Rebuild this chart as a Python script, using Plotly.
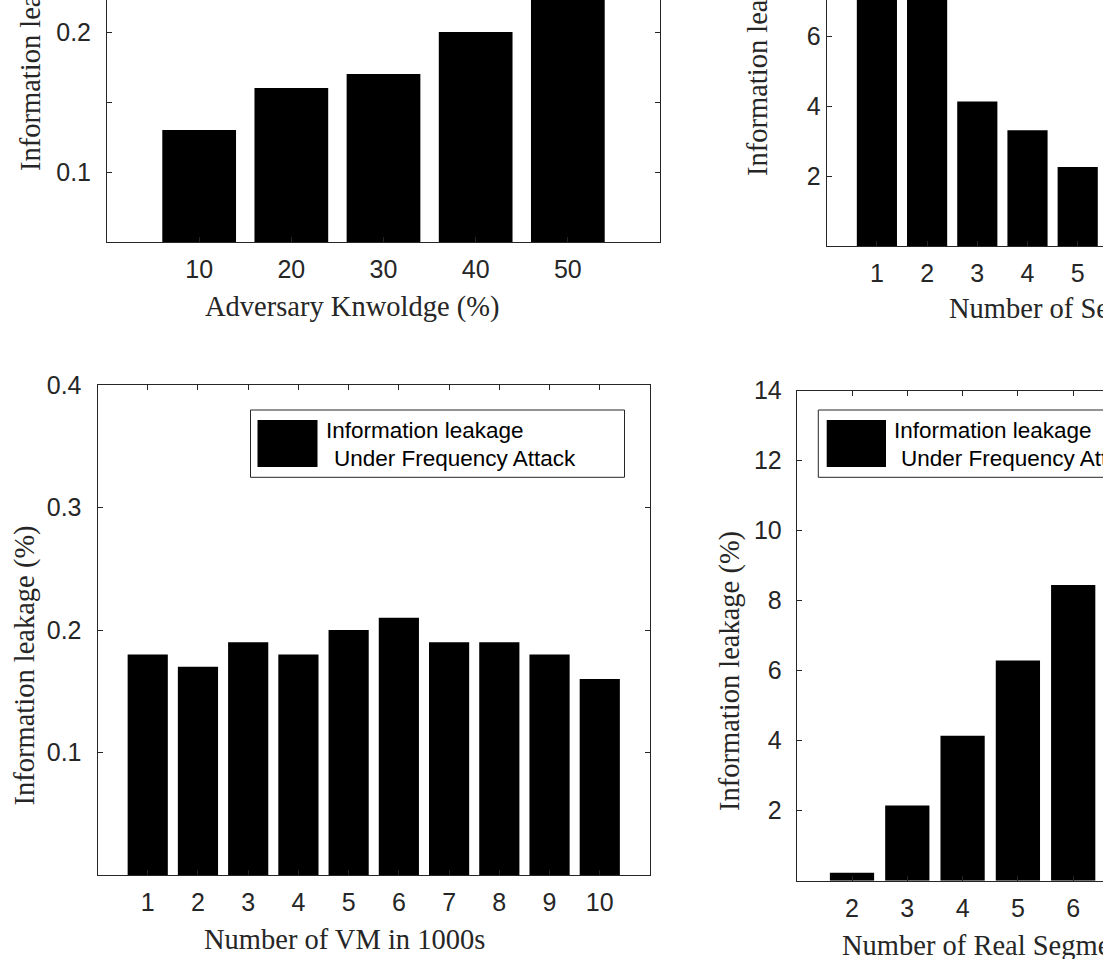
import plotly.graph_objects as go

W, H = 1103, 959

# ---------------- data ----------------
knowledge = [10, 20, 30, 40, 50]
leak_knowledge = [0.13, 0.16, 0.17, 0.20, 0.24]

segments = [1, 2, 3, 4, 5]
leak_segments = [8.6, 7.9, 4.13, 3.31, 2.26]

vms = [1, 2, 3, 4, 5, 6, 7, 8, 9, 10]
leak_vm = [0.18, 0.17, 0.19, 0.18, 0.20, 0.21, 0.19, 0.19, 0.18, 0.16]

real_segments = [2, 3, 4, 5, 6]
leak_real = [0.23, 2.15, 4.14, 6.29, 8.45]

tl_yticks = [0.1, 0.15, 0.2]
tl_yticktext = ["0.1", "", "0.2"]
tr_yticks = [2, 4, 6]
bl_yticks = [0.1, 0.2, 0.3, 0.4]
br_yticks = [2, 4, 6, 8, 10, 12, 14]

ylabel = "Information leakage (%)"
legend_line1 = "Information leakage"
legend_line2 = "Under Frequency Attack"

AX = "#262626"
TICKFONT = dict(family="Liberation Sans, Arial, sans-serif", size=25, color=AX)
SERIF = dict(family="Liberation Serif, Times New Roman, serif", size=28.5, color=AX)
LEGFONT = dict(family="Liberation Sans, Arial, sans-serif", size=22.5, color="black")


def px(x):
    return x / W


def py(y):
    return 1 - y / H


fig = go.Figure()

fig.add_trace(go.Bar(x=knowledge, y=leak_knowledge, width=8, xaxis="x", yaxis="y",
                     marker=dict(color="black", line=dict(width=0))))
fig.add_trace(go.Bar(x=segments, y=leak_segments, width=0.8, xaxis="x2", yaxis="y2",
                     marker=dict(color="black", line=dict(width=0))))
fig.add_trace(go.Bar(x=vms, y=leak_vm, width=0.8, xaxis="x3", yaxis="y3",
                     marker=dict(color="black", line=dict(width=0))))
fig.add_trace(go.Bar(x=real_segments, y=leak_real, width=0.8, xaxis="x4", yaxis="y4",
                     marker=dict(color="black", line=dict(width=0))))


def axis(**kw):
    d = dict(showline=True, linecolor=AX, linewidth=1, ticks="inside", ticklen=5,
             tickcolor=AX, tickwidth=1, showgrid=False, zeroline=False,
             tickfont=TICKFONT, automargin=False)
    d.update(kw)
    return d


fig.update_layout(
    width=W, height=H, margin=dict(l=0, r=0, t=0, b=0, pad=0, autoexpand=False),
    paper_bgcolor="white", plot_bgcolor="white", showlegend=False,
    # top-left
    xaxis=axis(domain=[px(107), px(660)], anchor="y", range=[0, 60],
               tickvals=knowledge, mirror=False, ticklabelstandoff=5),
    yaxis=axis(domain=[py(242), 1], anchor="x", range=[0.05, 0.05 + 242 / 1400],
               tickvals=tl_yticks, ticktext=tl_yticktext, mirror="ticks",
               ticklabelstandoff=10),
    # top-right
    xaxis2=axis(domain=[px(826.7), 1], anchor="y2", range=[0, (1103 - 826.7) / 50.2],
                tickvals=segments, mirror=False, ticklabelstandoff=5),
    yaxis2=axis(domain=[py(246), 1], anchor="x2", range=[0, 246 / 35],
                tickvals=tr_yticks, mirror=False, ticklabelstandoff=0),
    # bottom-left
    xaxis3=axis(domain=[px(97.5), px(650)], anchor="y3", range=[0, 11],
                tickvals=vms, mirror="ticks", ticklabelstandoff=5),
    yaxis3=axis(domain=[py(875), py(385)], anchor="x3", range=[0, 0.4],
                tickvals=bl_yticks, mirror="ticks", ticklabelstandoff=10),
    # bottom-right
    xaxis4=axis(domain=[px(796.7), 1], anchor="y4", range=[1, 1 + (1103 - 796.7) / 55.3],
                tickvals=real_segments, mirror="ticks", ticklabelstandoff=5),
    yaxis4=axis(domain=[py(880.7), py(390.7)], anchor="x4", range=[0, 14],
                tickvals=br_yticks, mirror=False, ticklabelstandoff=9),
)

ann = []
# y-axis titles (rotated, anchored at text start)
for xc, yb in [(31, 173), (758, 178), (24.5, 808), (730, 813)]:
    ann.append(dict(text=ylabel, x=px(xc), y=py(yb), xref="paper", yref="paper",
                    xanchor="center", yanchor="bottom", textangle=-90,
                    showarrow=False, font=SERIF))
# x-axis titles
for txt, xl, ym in [("Adversary Knwoldge (%)", 203, 307),
                    ("Number of Segments", 946.7, 309),
                    ("Number of VM in 1000s", 202, 939),
                    ("Number of Real Segments", 840, 945)]:
    ann.append(dict(text=txt, x=px(xl), y=py(ym), xref="paper", yref="paper",
                    xanchor="left", yanchor="middle", showarrow=False, font=SERIF))
# legend texts
for x1, x2 in [(324, 331.7), (892.3, 899.3)]:
    ann.append(dict(text=legend_line1, x=px(x1), y=py(430.3), xref="paper", yref="paper",
                    xanchor="left", yanchor="middle", showarrow=False, font=LEGFONT))
    ann.append(dict(text=legend_line2, x=px(x2), y=py(458), xref="paper", yref="paper",
                    xanchor="left", yanchor="middle", showarrow=False, font=LEGFONT))
fig.update_layout(annotations=ann)

shapes = []
# legend boxes
for x0, x1 in [(250.5, 624.5), (818.3, 1150)]:
    shapes.append(dict(type="rect", xref="paper", yref="paper",
                       x0=px(x0), x1=px(x1), y0=py(477.3), y1=py(410),
                       line=dict(color=AX, width=1), fillcolor="white", layer="above"))
for x0, x1 in [(257.5, 317.5), (826.7, 886)]:
    shapes.append(dict(type="rect", xref="paper", yref="paper",
                       x0=px(x0), x1=px(x1), y0=py(467), y1=py(420),
                       line=dict(width=0), fillcolor="black", layer="above"))
fig.update_layout(shapes=shapes)

fig.write_html("out.html")
